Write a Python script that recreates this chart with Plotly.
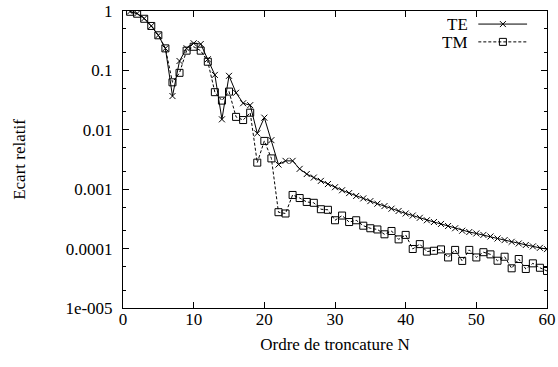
import plotly.graph_objects as go

N = list(range(1, 61))

TE = [0.98, 0.91, 0.75, 0.56, 0.39, 0.235, 0.037, 0.144, 0.236, 0.286,
      0.278, 0.154, 0.084, 0.015, 0.081, 0.042, 0.028, 0.026, 0.0087, 0.016,
      0.0067, 0.0026, 0.0030, 0.0030, 0.0022, 0.0018, 0.00157, 0.00138, 0.00122, 0.00108,
      0.00096, 0.00086, 0.00077, 0.00070, 0.00063, 0.00057, 0.00052, 0.00047, 0.00043, 0.00039,
      0.00036, 0.00033, 0.00030, 0.00028, 0.00026, 0.00024, 0.00022, 0.00020, 0.00019, 0.00018,
      0.00017, 0.00016, 0.000148, 0.000139, 0.00013, 0.000122, 0.000115, 0.000109, 0.000103, 0.000098]

TM = [0.97, 0.90, 0.74, 0.56, 0.39, 0.235, 0.063, 0.091, 0.215, 0.25,
      0.215, 0.14, 0.043, 0.031, 0.044, 0.0165, 0.0146, 0.0194, 0.0028, 0.0065,
      0.0033, 0.00041, 0.00039, 0.0008, 0.00071, 0.00061, 0.00059, 0.00046, 0.00045, 0.0003,
      0.00036, 0.00028, 0.0003, 0.000243, 0.00022, 0.00021, 0.000174, 0.000198, 0.000143, 0.00017,
      0.0000985, 0.000119, 0.000089, 0.000092, 0.000097, 0.000071, 0.000095, 0.000062, 0.000095, 0.000071,
      0.000087, 0.00008, 0.0000625, 0.000073, 0.0000466, 0.0000668, 0.0000454, 0.0000565, 0.0000476, 0.000042]

y_tickvals = [1, 0.1, 0.01, 0.001, 0.0001, 0.00001]
y_ticktext = ["1", "0.1", "0.01", "0.001", "0.0001", "1e-005"]
y_minorvals = [m * 10.0 ** e for e in range(-5, 0) for m in (2, 5)]
x_tickvals = [0, 10, 20, 30, 40, 50, 60]

FONT = "Liberation Serif"
FS = 17

fig = go.Figure()
fig.add_trace(go.Scatter(x=N, y=TE, mode="lines+markers", name="TE",
                         line=dict(color="black", width=1),
                         marker=dict(symbol="x-thin", size=6, line=dict(color="black", width=1)),
                         showlegend=False))
fig.add_trace(go.Scatter(x=N, y=TM, mode="lines+markers", name="TM",
                         line=dict(color="black", width=1, dash="3px,2px"),
                         marker=dict(symbol="square-open", size=7, color="black", line=dict(width=1)),
                         showlegend=False))

# legend samples drawn on an overlay axis (gnuplot-style key: text left, sample right)
fig.add_trace(go.Scatter(x=[0.838, 0.953], y=[0.956, 0.956], mode="lines", xaxis="x2", yaxis="y2",
                         line=dict(color="black", width=1), showlegend=False, hoverinfo="skip"))
fig.add_trace(go.Scatter(x=[0.896], y=[0.956], mode="markers", xaxis="x2", yaxis="y2",
                         marker=dict(symbol="x-thin", size=6, line=dict(color="black", width=1)),
                         showlegend=False, hoverinfo="skip"))
fig.add_trace(go.Scatter(x=[0.838, 0.953], y=[0.896, 0.896], mode="lines", xaxis="x2", yaxis="y2",
                         line=dict(color="black", width=1, dash="3px,2px"), showlegend=False, hoverinfo="skip"))
fig.add_trace(go.Scatter(x=[0.896], y=[0.896], mode="markers", xaxis="x2", yaxis="y2",
                         marker=dict(symbol="square-open", size=7, color="black", line=dict(width=1)),
                         showlegend=False, hoverinfo="skip"))

fig.add_annotation(x=0.815, y=0.956, xref="x2", yref="y2", text="TE", showarrow=False,
                   xanchor="right", yanchor="middle", height=16, borderpad=0,
                   font=dict(family=FONT, size=FS, color="black"))
fig.add_annotation(x=0.815, y=0.896, xref="x2", yref="y2", text="TM", showarrow=False,
                   xanchor="right", yanchor="middle", height=16, borderpad=0,
                   font=dict(family=FONT, size=FS, color="black"))

fig.update_layout(
    width=558, height=367,
    margin=dict(l=123, r=11, t=11, b=59),
    paper_bgcolor="white", plot_bgcolor="white",
    font=dict(family=FONT, size=FS, color="black"),
    xaxis=dict(range=[0, 60], tickvals=x_tickvals, ticks="inside", ticklen=6, tickwidth=1,
               tickcolor="black", showline=True, linecolor="black", linewidth=1, mirror="ticks",
               showgrid=False, zeroline=False, automargin=False, ticklabelstandoff=-4,
               tickfont=dict(family=FONT, size=FS),
               title=dict(text="Ordre de troncature N", standoff=9, font=dict(family=FONT, size=FS))),
    yaxis=dict(type="log", range=[-5, 0], tickvals=y_tickvals, ticktext=y_ticktext,
               ticks="inside", ticklen=6, tickwidth=1, tickcolor="black",
               showline=True, linecolor="black", linewidth=1, mirror="ticks",
               showgrid=False, zeroline=False, ticklabelstandoff=6, automargin=False,
               tickfont=dict(family=FONT, size=FS),
               minor=dict(tickvals=y_minorvals, ticks="inside", ticklen=3, tickcolor="black", showgrid=False),
               title=dict(text="Ecart relatif", standoff=35, font=dict(family=FONT, size=FS))),
    xaxis2=dict(range=[0, 1], overlaying="x", visible=False, fixedrange=True),
    yaxis2=dict(range=[0, 1], overlaying="y", visible=False, fixedrange=True),
)

fig.write_html("out.html", config={"displayModeBar": False},
               post_script="document.body.style.margin='0px';")
